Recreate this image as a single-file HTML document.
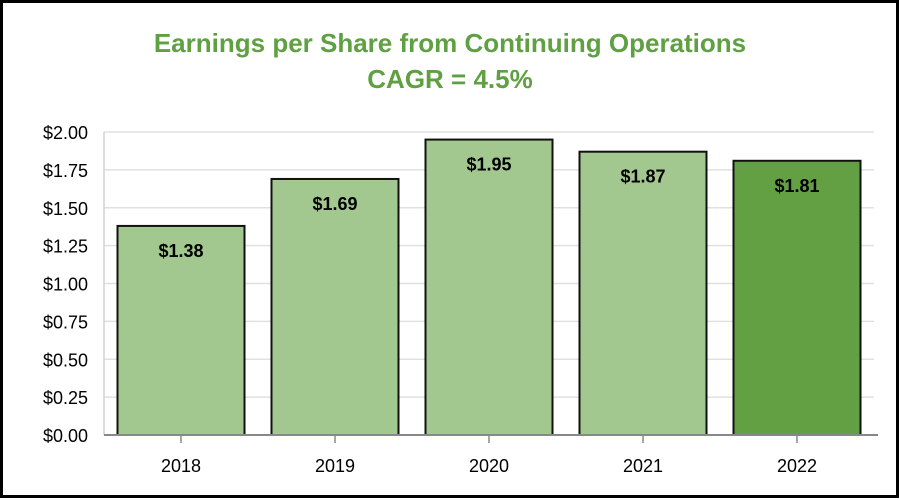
<!DOCTYPE html>
<html><head><meta charset="utf-8"><style>
html,body{margin:0;padding:0;background:#fff}
svg{display:block}
text{font-family:"Liberation Sans",sans-serif}
</style></head><body>
<svg id="chart" width="900" height="500">
<rect x="1.5" y="1.5" width="896" height="495" fill="#fff" stroke="#000" stroke-width="3"/>
<text x="450" y="52" text-anchor="middle" font-size="26" font-weight="bold" fill="#5fa042">Earnings per Share from Continuing Operations</text>
<text x="450" y="88" text-anchor="middle" font-size="26" font-weight="bold" fill="#5fa042">CAGR = 4.5%</text>
<g id="grid"></g><g id="bars"></g><g id="axes"></g>
</svg>
<script>
const categories = ["2018","2019","2020","2021","2022"];
const values = [1.38,1.69,1.95,1.87,1.81];
const valueLabels = ["$1.38","$1.69","$1.95","$1.87","$1.81"];
const ticks = [0,0.25,0.5,0.75,1,1.25,1.5,1.75,2];
const tickLabels = ["$0.00","$0.25","$0.50","$0.75","$1.00","$1.25","$1.50","$1.75","$2.00"];
const NS="http://www.w3.org/2000/svg";
const x0=104,x1=874,yb=435,yt=132,vmax=2;
const y=v=>yb-(v/vmax)*(yb-yt);
const bw=(x1-x0)/categories.length;
const xc=i=>x0+bw*(i+0.5);
function mk(t,a,p){const e=document.createElementNS(NS,t);for(const k in a)e.setAttribute(k,a[k]);p.appendChild(e);return e;}
const grid=document.getElementById('grid'),bars=document.getElementById('bars'),axes=document.getElementById('axes');
ticks.forEach((t,i)=>{
  if(t>0){const l=mk('line',{x1:x0,x2:x1,y1:y(t),y2:y(t),stroke:'#e0e0e0','stroke-width':1.5},grid);
  
  }
  const tx=mk('text',{x:88,y:y(t)+7,'text-anchor':'end','font-size':18,fill:'#000'},axes);
  tx.textContent=tickLabels[i];
  
  
});
const va=mk('line',{x1:x0,x2:x0,y1:yt,y2:yb,stroke:'#d0d0d0','stroke-width':1.5},axes);


categories.forEach((c,i)=>{
  const w=127,cx=xc(i);
  const r=mk('rect',{x:cx-w/2,y:y(values[i]),width:w,height:yb-y(values[i]),fill:i===4?'#62a043':'#a3c88f',stroke:'#111','stroke-width':2},bars);
  
  
  const lb=mk('text',{x:cx,y:y(values[i])+31,'text-anchor':'middle','font-size':18,'font-weight':'bold',fill:'#000'},bars);
  lb.textContent=valueLabels[i];
  
  
  const tk=mk('line',{x1:cx,x2:cx,y1:yb,y2:yb+8,stroke:'#888','stroke-width':1.5},axes);
  
  
  const xl=mk('text',{x:cx,y:472,'text-anchor':'middle','font-size':18,fill:'#000'},axes);
  xl.textContent=c;
  
  
});
const xa=mk('line',{x1:x0,x2:x1+4,y1:yb,y2:yb,stroke:'#888','stroke-width':2},axes);


</script>
</body></html>
